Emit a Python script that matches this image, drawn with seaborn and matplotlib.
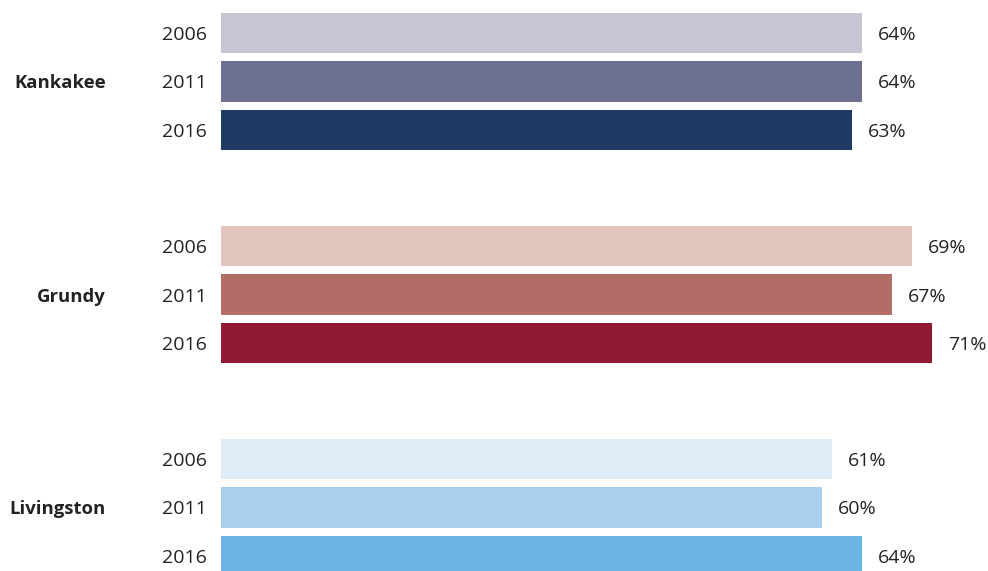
import matplotlib
matplotlib.use("Agg")
import matplotlib.pyplot as plt
import seaborn as sns
import pandas as pd

regions = ["Kankakee", "Grundy", "Livingston"]
years = ["2006", "2011", "2016"]
kankakee = [64, 64, 63]
grundy = [69, 67, 71]
livingston = [61, 60, 64]

colors = {
    "Kankakee": ["#c5c5d4", "#6e7090", "#1f3a64"],
    "Grundy": ["#e2c5bd", "#b26d66", "#901a31"],
    "Livingston": ["#deedf7", "#a8cfee", "#6cb4e4"],
}

values = {"Kankakee": kankakee, "Grundy": grundy, "Livingston": livingston}
rows = []
for r in regions:
    for y, v in zip(years, values[r]):
        rows.append({"region": r, "year": y, "value": v})
df = pd.DataFrame(rows)

sns.set_theme(style="white")
plt.rcParams["font.family"] = ["Open Sans", "DejaVu Sans"]

W, H = 988, 571
fig = plt.figure(figsize=(W / 100, H / 100), dpi=100)
left_px = 221
ax = fig.add_axes([left_px / W, 0, (W - left_px) / W, 1])

sns.barplot(data=df, y="region", x="value", hue="year", order=regions,
            hue_order=years, orient="h", width=0.683, gap=0.155,
            dodge=True, legend=False, ax=ax, saturation=1, linewidth=0)

# recolor per region/year
for yi, cont in enumerate(ax.containers):
    for ri, bar in enumerate(cont):
        bar.set_facecolor(colors[regions[ri]][yi])
        bar.set_edgecolor("none")

ax.set_xlim(0, (W - left_px) / 10.02)
ax.set_ylim((H - 81.5) / 213, -81.5 / 213)

# year ticks at bar centres
ticks, labels = [], []
for yi, cont in enumerate(ax.containers):
    for bar in cont:
        ticks.append(bar.get_y() + bar.get_height() / 2)
        labels.append(years[yi])
ax.set_yticks(ticks)
ax.set_yticklabels(labels, fontsize=14, color="#222222")
for t in ax.get_yticklabels():
    t.set_va("center_baseline")
ax.tick_params(axis="y", length=0, pad=10)
ax.set_xticks([])
ax.set_xlabel("")
ax.set_ylabel("")
for s in ax.spines.values():
    s.set_visible(False)

for cont in ax.containers:
    txts = ax.bar_label(cont, labels=[f"{int(v)}%" for v in cont.datavalues],
                        padding=11.5, fontsize=14, color="#222222")
    for t in txts:
        t.set_va("center_baseline")

# region labels
from matplotlib.transforms import blended_transform_factory, offset_copy
trans = blended_transform_factory(ax.transAxes, ax.transData)
trans = offset_copy(trans, fig=fig, x=-(left_px - 106) * 0.72, units="points")
for i, r in enumerate(regions):
    ax.text(0, i, r, transform=trans, ha="right", va="center_baseline",
            fontsize=13.3, fontweight="bold", color="#222222")

fig.savefig("out.png", dpi=100)
